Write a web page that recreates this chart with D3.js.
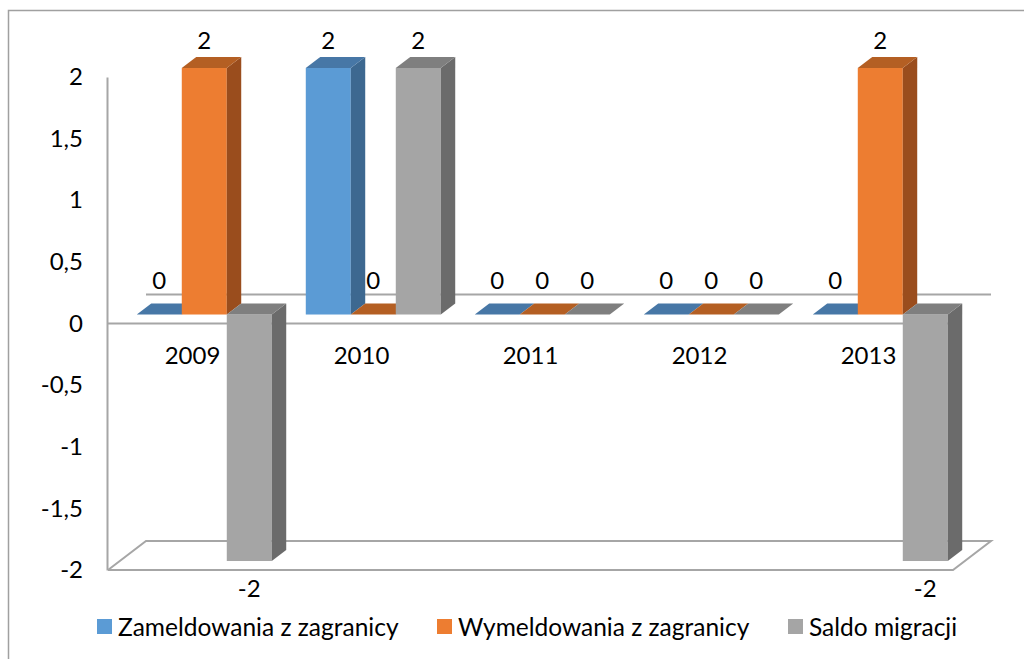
<!DOCTYPE html>
<html>
<head>
<meta charset="utf-8">
<script src="https://cdn.jsdelivr.net/npm/d3@7"></script>
<style>
    body { margin: 0; background: white; }
    svg text { font-family: Lato, "Open Sans", sans-serif; fill: black; }
</style>
</head>
<body>
<main></main>
<script>
const years = ["2009", "2010", "2011", "2012", "2013"]
const seriesNames = ["Zameldowania z zagranicy", "Wymeldowania z zagranicy", "Saldo migracji"]
const zameldowania = [0, 2, 0, 0, 0]
const wymeldowania = [2, 0, 0, 0, 2]
const saldo = [-2, 2, 0, 0, -2]
const yTicks = [-2, -1.5, -1, -0.5, 0, 0.5, 1, 1.5, 2]

const svgWidth = 1024
const svgHeight = 659

// depth of the 3d box and where the bars sit inside it
const depthX = 38
const depthY = 29
const barZ0 = 0.31
const barZ1 = 0.69

const colors = [
    { front: "#5b9bd5", side: "#3d6890", top: "#4777a6" },
    { front: "#ed7d31", side: "#9a4d1d", top: "#b45f23" },
    { front: "#a5a5a5", side: "#6b6b6b", top: "#7f7f7f" },
]

let rows = []
years.forEach((y, i) => {
    rows.push({ year: y, s: 0, value: zameldowania[i] })
    rows.push({ year: y, s: 1, value: wymeldowania[i] })
    rows.push({ year: y, s: 2, value: saldo[i] })
})

let svg = d3.select("main")
    .append("svg")
    .attr("width", svgWidth)
    .attr("height", svgHeight)

svg.append("rect")
    .attr("x", 8.5)
    .attr("y", 10.5)
    .attr("width", 1100)
    .attr("height", 800)
    .attr("fill", "none")
    .attr("stroke", "#a0a0a0")
    .attr("stroke-width", 1.5)

/* Scales */

let xScale = d3.scaleBand()
    .domain(years)
    .range([108, 953])

let sScale = d3.scaleBand()
    .domain([0, 1, 2])
    .range([17, xScale.bandwidth() - 17])

let yScale = d3.scaleLinear()
    .domain([-2, 2])
    .range([570, 77])

const px = (x, z) => x + z * depthX
const py = (v, z) => yScale(v) - z * depthY

/* Walls and axis lines */

let x0 = xScale.range()[0]
let x1 = xScale.range()[1]
let lineColor = "#a6a6a6"

let walls = svg.append("g")
    .attr("fill", "none")
    .attr("stroke", lineColor)
    .attr("stroke-width", 2)

// floor
walls.append("path")
    .attr("d", d3.line()([
        [px(x0, 0), py(-2, 0)], [px(x1, 0), py(-2, 0)],
        [px(x1, 1), py(-2, 1)], [px(x0, 1), py(-2, 1)], [px(x0, 0), py(-2, 0)]
    ]))

// zero line on the back wall
walls.append("line")
    .attr("x1", px(x0, 1)).attr("x2", px(x1, 1))
    .attr("y1", py(0, 1)).attr("y2", py(0, 1))

// category axis at zero
walls.append("line")
    .attr("x1", px(x0, 0)).attr("x2", px(x1, 0))
    .attr("y1", py(0, 0)).attr("y2", py(0, 0))

// value axis
let leftAxis = d3.axisLeft(yScale)
    .tickValues(yTicks)
    .tickSize(0)
    .tickPadding(24)
    .tickFormat(d => String(d).replace(".", ","))

let yAxis = svg.append("g")
    .attr("transform", `translate(${x0 - 1}, 0)`)
    .call(leftAxis)

yAxis.select("path")
    .attr("stroke", lineColor)
    .attr("stroke-width", 2)

yAxis.selectAll("text")
    .attr("fill", "black")
    .style("font-size", "24px")
    .style("font-family", "Lato, sans-serif")

/* Bars */

let bars = svg.append("g")
    .selectAll("g")
    .data(rows)
    .enter()
    .append("g")

bars.each(function (d) {
    let g = d3.select(this)
    let c = colors[d.s]
    let l = xScale(d.year) + sScale(d.s)
    let r = l + sScale.bandwidth()
    let top = Math.max(d.value, 0)
    let bot = Math.min(d.value, 0)

    if (top !== bot) {
        g.append("rect")
            .attr("x", px(l, barZ0))
            .attr("y", py(top, barZ0))
            .attr("width", r - l)
            .attr("height", py(bot, barZ0) - py(top, barZ0))
            .attr("fill", c.front)

        g.append("path")
            .attr("d", d3.line()([
                [px(r, barZ0), py(top, barZ0)], [px(r, barZ1), py(top, barZ1)],
                [px(r, barZ1), py(bot, barZ1)], [px(r, barZ0), py(bot, barZ0)]
            ]) + "Z")
            .attr("fill", c.side)
    }

    g.append("path")
        .attr("d", d3.line()([
            [px(l, barZ0), py(top, barZ0)], [px(r, barZ0), py(top, barZ0)],
            [px(r, barZ1), py(top, barZ1)], [px(l, barZ1), py(top, barZ1)]
        ]) + "Z")
        .attr("fill", c.top)
})

/* Data labels */

svg.append("g")
    .selectAll("text")
    .data(rows)
    .enter()
    .append("text")
    .attr("x", d => px(xScale(d.year) + sScale(d.s) + sScale.bandwidth() / 2, barZ0))
    .attr("y", d => yScale(d.value) + (d.value > 0 ? -36 : d.value < 0 ? 19 : -43))
    .attr("dy", "0.35em")
    .style("text-anchor", "middle")
    .style("font-size", "24px")
    .text(d => d.value)

/* Category labels */

svg.append("g")
    .selectAll("text")
    .data(years)
    .enter()
    .append("text")
    .attr("x", d => xScale(d) + xScale.bandwidth() / 2)
    .attr("y", 356)
    .attr("dy", "0.35em")
    .style("text-anchor", "middle")
    .style("font-size", "24px")
    .text(d => d)

/* Legend */

let legendX = [97, 437, 788]

let legend = svg.append("g")
    .selectAll("g")
    .data(seriesNames)
    .enter()
    .append("g")
    .attr("transform", (d, i) => `translate(${legendX[i]}, 619)`)

legend.append("rect")
    .attr("width", 15)
    .attr("height", 15)
    .attr("fill", (d, i) => colors[i].front)

legend.append("text")
    .attr("x", 21)
    .attr("y", 8)
    .attr("dy", "0.35em")
    .style("font-size", "24.5px")
    .text(d => d)
</script>
</body>
</html>
